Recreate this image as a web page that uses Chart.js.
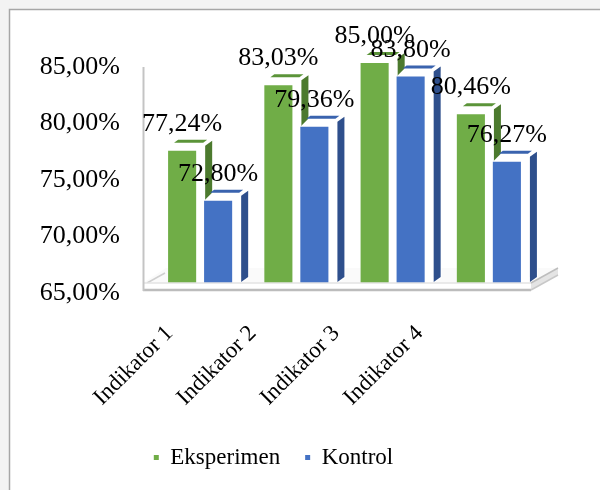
<!DOCTYPE html>
<html><head><meta charset="utf-8">
<script src="https://cdn.jsdelivr.net/npm/chart.js@4/dist/chart.umd.min.js"></script>
<style>html,body{margin:0;padding:0;background:#fff;}canvas{display:block;}</style>
</head><body>
<canvas id="c" width="600" height="490"></canvas>
<script>
const categories = ['Indikator 1', 'Indikator 2', 'Indikator 3', 'Indikator 4'];
const seriesNames = ['Eksperimen', 'Kontrol'];
const eksperimen = [77.24, 83.03, 85.00, 80.46];
const kontrol = [72.80, 79.36, 83.80, 76.27];
const yTicks = [65, 70, 75, 80, 85];

const FONT = "'Times New Roman', 'Liberation Serif', serif";
const FRONT = ['#70AD47', '#4472C4'];
const TOPC = ['#5B9439', '#3A63AE'];
const SIDEC = ['#4C7A2E', '#2E4F8C'];
const fmt = v => v.toFixed(2).replace('.', ',') + '%';

function poly(ctx, pts, fill, stroke, lw) {
  ctx.beginPath();
  pts.forEach((p, i) => i ? ctx.lineTo(p[0], p[1]) : ctx.moveTo(p[0], p[1]));
  ctx.closePath();
  if (fill) { ctx.fillStyle = fill; ctx.fill(); }
  if (stroke) { ctx.strokeStyle = stroke; ctx.lineWidth = lw || 1; ctx.stroke(); }
}
function line(ctx, x1, y1, x2, y2, c, w) {
  ctx.beginPath(); ctx.moveTo(x1, y1); ctx.lineTo(x2, y2);
  ctx.strokeStyle = c; ctx.lineWidth = w; ctx.stroke();
}

const deco = {
  id: 'deco',
  beforeDraw(chart) {
    const ctx = chart.ctx;
    ctx.save();
    ctx.fillStyle = '#f3f3f3'; ctx.fillRect(0, 0, 600, 490);
    ctx.fillStyle = '#ffffff'; ctx.fillRect(9, 9, 600, 490);
    ctx.strokeStyle = '#a6a6a6'; ctx.lineWidth = 1.5;
    ctx.beginPath(); ctx.moveTo(9.5, 490); ctx.lineTo(9.5, 9.5); ctx.lineTo(600, 9.5); ctx.stroke();
    ctx.restore();
  },
  beforeDatasetsDraw(chart) {
    const ctx = chart.ctx;
    const B = chart.chartArea.bottom;
    ctx.save();
    poly(ctx, [[143, 283], [531, 283], [558, 268], [166, 268]], '#fafafa');
    line(ctx, 147, 283, 165, 273, '#cfcfcf', 1.5);
    const metas = [chart.getDatasetMeta(0), chart.getDatasetMeta(1)];
    for (let i = 0; i < categories.length; i++) {
      metas.forEach((m, di) => {
        const p = m.data[i].getProps(['x', 'y', 'width'], true);
        const L = p.x - p.width / 2, R = p.x + p.width / 2, T = p.y;
        poly(ctx, [[L, T], [L + 11, T - 11], [R + 17, T - 11], [R + 17, B - 11], [R, B], [L, B]], '#ffffff');
        poly(ctx, [[L + 6, T - 8], [R + 7, T - 8], [R + 11, T - 11], [L + 10, T - 11]], TOPC[di]);
        poly(ctx, [[R + 9, T - 5], [R + 16, T - 10], [R + 16, B - 12], [R + 9, B - 7]], SIDEC[di]);
      });
    }
    ctx.restore();
  },
  afterDatasetsDraw(chart) {
    const ctx = chart.ctx;
    ctx.save();
    poly(ctx, [[141, 282.5], [531, 282.5], [558, 268], [558, 275], [531, 291], [141, 291]], '#ffffff');
    poly(ctx, [[531, 283], [558, 268], [558, 275], [531, 290]], '#e4e4e4');
    line(ctx, 143, 283, 531, 283, '#d6d6d6', 1.2);
    line(ctx, 531, 283, 558, 268, '#bdbdbd', 1.5);
    line(ctx, 143, 290, 531, 290, '#bcbcbc', 2.5);
    line(ctx, 531, 290, 558, 275, '#c8c8c8', 1.5);
    line(ctx, 143.5, 67, 143.5, 291, '#c4c4c4', 2);
    ctx.fillStyle = '#000';
    ctx.font = '26px ' + FONT;
    ctx.textAlign = 'center';
    ctx.textBaseline = 'alphabetic';
    chart.data.datasets.forEach((ds, di) => {
      chart.getDatasetMeta(di).data.forEach((el, i) => {
        ctx.fillText(fmt(ds.data[i]), el.x, el.y - 20);
      });
    });
    ctx.restore();
  }
};

new Chart(document.getElementById('c'), {
  type: 'bar',
  data: {
    labels: categories,
    datasets: [
      { label: seriesNames[0], data: eksperimen, backgroundColor: FRONT[0], borderWidth: 0 },
      { label: seriesNames[1], data: kontrol, backgroundColor: FRONT[1], borderWidth: 0 }
    ]
  },
  options: {
    responsive: false,
    animation: false,
    devicePixelRatio: 1,
    layout: { padding: { top: 63, right: 53, bottom: 11, left: 0 } },
    datasets: { bar: { categoryPercentage: 0.748, barPercentage: 0.78 } },
    plugins: {
      tooltip: { enabled: false },
      legend: {
        position: 'bottom',
        labels: { boxWidth: 5, boxHeight: 5, padding: 25, color: '#000', font: { family: FONT, size: 23 } }
      }
    },
    scales: {
      x: { display: false },
      xl: {
        type: 'linear', position: 'bottom', min: -0.21, max: 4.41, offset: false,
        afterBuildTicks: s => { s.ticks = categories.map((c, i) => ({ value: i })); },
        ticks: {
          autoSkip: false, minRotation: 45, maxRotation: 45, padding: 31,
          color: '#000', font: { family: FONT, size: 23 },
          callback: (v, i) => categories[i]
        },
        grid: { display: false, drawTicks: false }, border: { display: false },
        afterFit: s => { s.height = 132; }
      },
      y: {
        min: 65, max: 85,
        afterBuildTicks: s => { s.ticks = yTicks.map(v => ({ value: v })); },
        ticks: { padding: 32, labelOffset: 4, color: '#000', font: { family: FONT, size: 26 }, callback: v => fmt(v) },
        grid: { display: false, drawTicks: false }, border: { display: false },
        afterFit: s => { s.width = 152; }
      },
      yr: {
        type: 'linear', position: 'right', display: true,
        ticks: { display: false }, grid: { display: false, drawTicks: false }, border: { display: false },
        afterFit: s => { s.width = 10; }
      }
    }
  },
  plugins: [deco]
});
</script>
</body></html>
